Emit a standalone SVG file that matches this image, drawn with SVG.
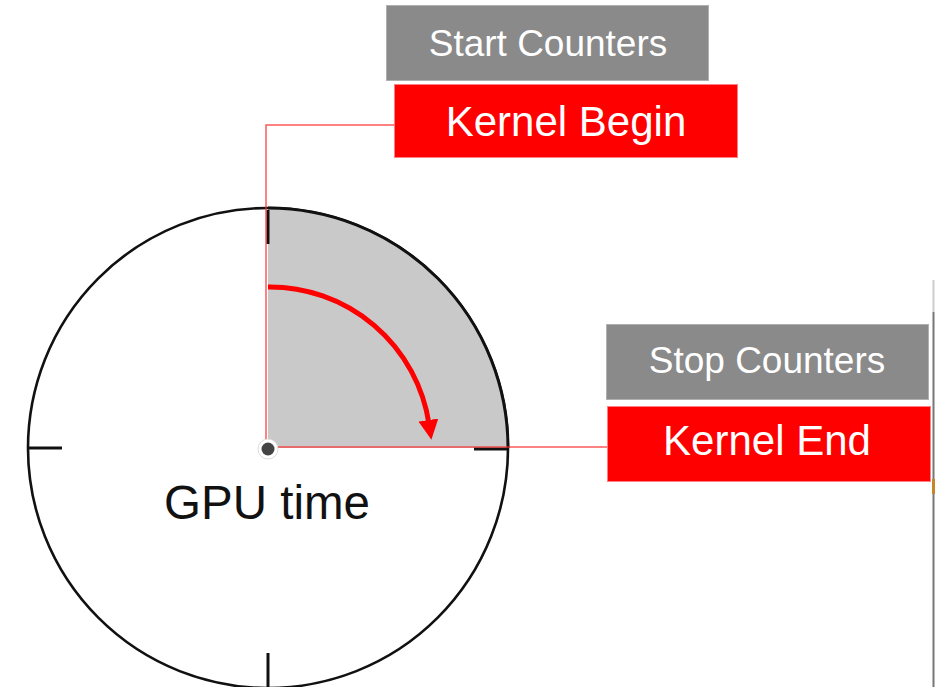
<svg xmlns="http://www.w3.org/2000/svg" width="935" height="687" viewBox="0 0 935 687">
<defs>
<style>
.lbl{font-family:"Liberation Sans",Arial,sans-serif;fill:#ffffff;text-anchor:middle}
.gray{fill:#8a8a8a;stroke:#b0b0b0;stroke-width:1}
.red{fill:#ff0000;stroke:#ff8080;stroke-width:1}
.conn{fill:none;stroke:#ff3030;stroke-opacity:0.8;stroke-width:1.5}
.tick{stroke:#111111;stroke-width:3;fill:none}
</style>
<marker id="ah" viewBox="0 0 10 10" refX="2" refY="5" markerWidth="4" markerHeight="4" markerUnits="strokeWidth" orient="auto">
<path d="M0,0 L10,5 L0,10 Z" fill="#ff0000"/>
</marker>
</defs>
<rect width="935" height="687" fill="#ffffff"/>

<g id="clock">
<circle cx="268" cy="448" r="240" fill="#ffffff" stroke="#111111" stroke-width="2.6"/>
<path d="M268,448 L268,208 A240,240 0 0 1 508,448 Z" fill="#c9c9c9"/>
<path d="M268,208 A240,240 0 0 1 508,448" fill="none" stroke="#111111" stroke-width="3"/>
<line class="tick" x1="27" y1="448" x2="62" y2="448"/>
<line class="tick" x1="474" y1="449" x2="508" y2="449"/>
<line class="tick" x1="268" y1="210" x2="268" y2="244"/>
<line class="tick" x1="268" y1="653" x2="268" y2="687"/>
<text x="267" y="519" font-family="'Liberation Sans',Arial,sans-serif" font-size="47.5" fill="#111111" text-anchor="middle">GPU time</text>
</g>

<g id="connectors">
<polyline class="conn" points="394,125 266,125 266,448"/>
<line class="conn" x1="268" y1="447" x2="607" y2="447"/>
<path d="M268,287 A161,161 0 0 1 429,424" fill="none" stroke="#ff0000" stroke-width="5" marker-end="url(#ah)"/>
</g>

<g id="center">
<circle cx="268" cy="449" r="10" fill="#ffffff" stroke="#dddddd" stroke-width="1"/>
<circle cx="268" cy="449" r="6.5" fill="#444444"/>
</g>

<g id="start-counters">
<rect class="gray" x="386.5" y="5.5" width="322" height="75"/>
<text class="lbl" x="548" y="56" font-size="37">Start Counters</text>
</g>
<g id="kernel-begin">
<rect class="red" x="394.5" y="84.5" width="343" height="73"/>
<text class="lbl" x="566" y="136" font-size="42">Kernel Begin</text>
</g>
<g id="stop-counters">
<rect class="gray" x="606.5" y="324.5" width="322" height="75"/>
<text class="lbl" x="767" y="373" font-size="37">Stop Counters</text>
</g>
<g id="kernel-end">
<rect class="red" x="607.5" y="406.5" width="323" height="75"/>
<text class="lbl" x="767" y="455" font-size="42">Kernel End</text>
</g>

<g id="edge">
<line x1="933.5" y1="280" x2="933.5" y2="312" stroke="#cccccc" stroke-width="2"/>
<line x1="933.5" y1="312" x2="933.5" y2="687" stroke="#777777" stroke-width="2"/>
<rect x="932" y="479" width="3" height="15" fill="#c8862a"/>
</g>
</svg>
